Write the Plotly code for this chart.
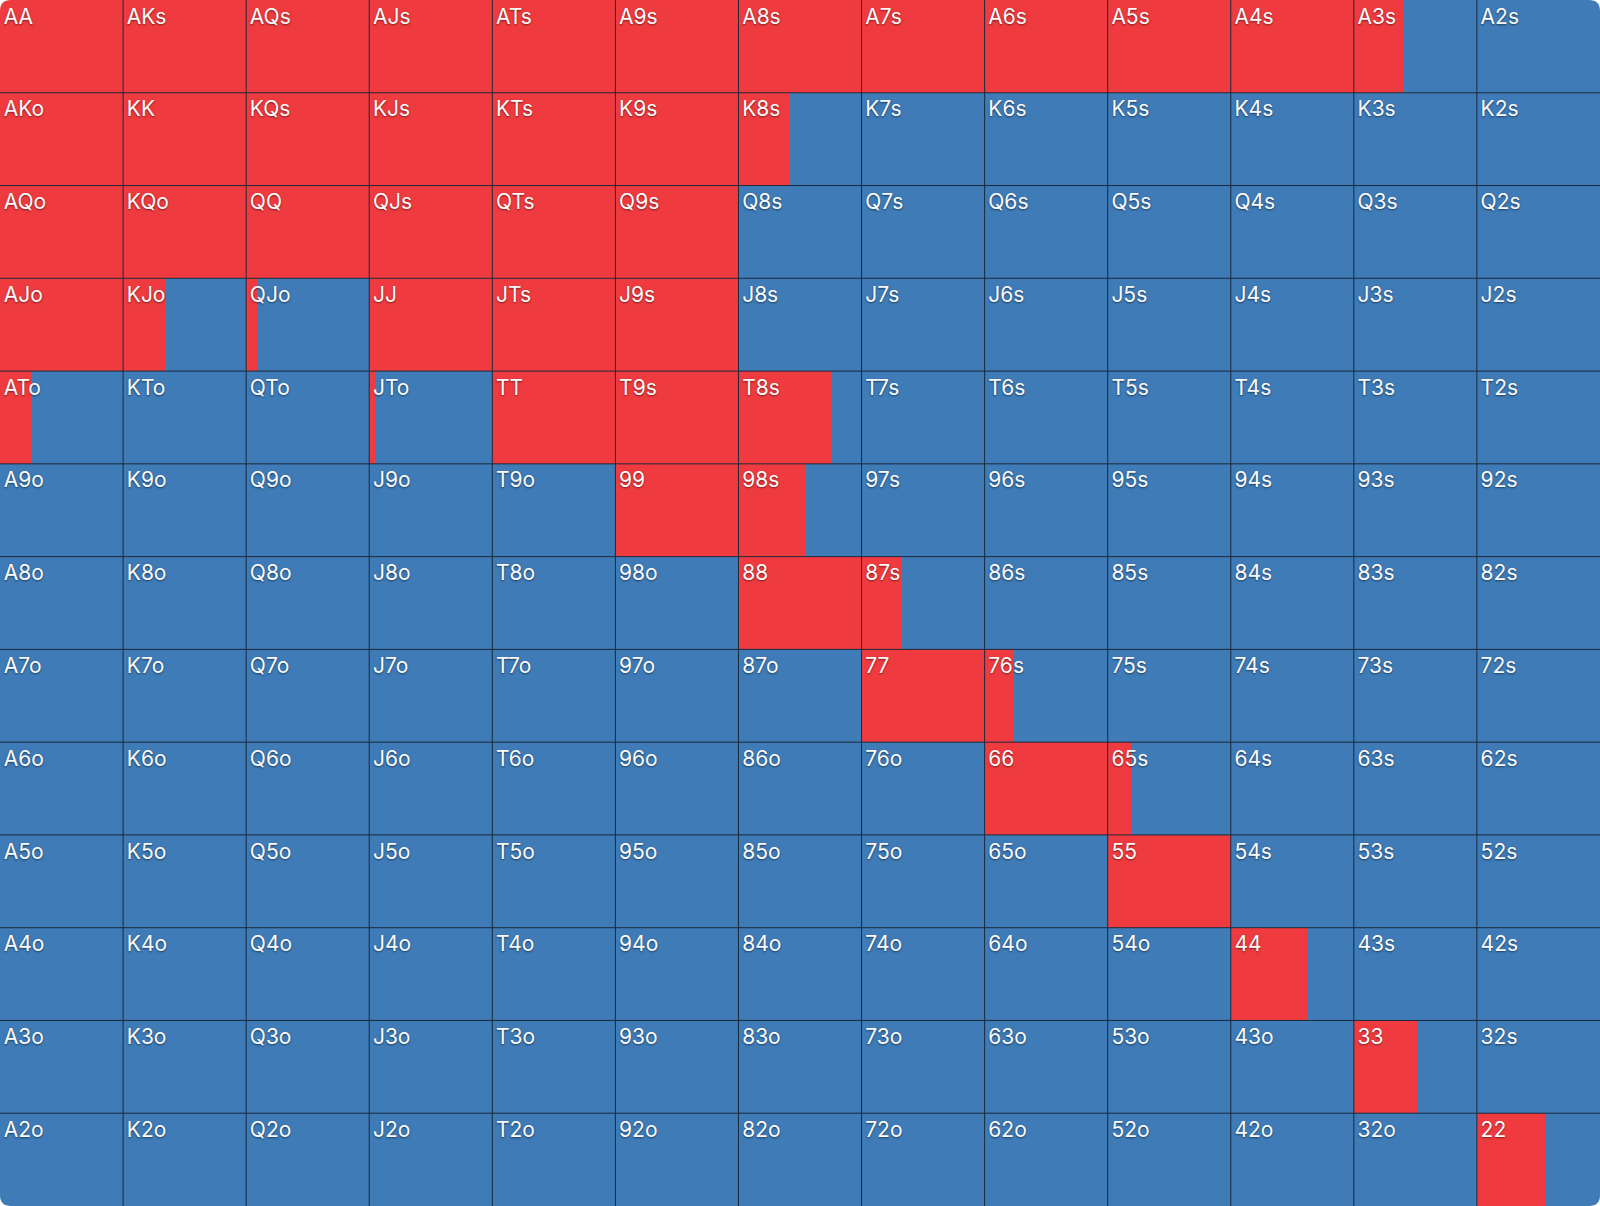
import plotly.graph_objects as go

ranks = ["A", "K", "Q", "J", "T", "9", "8", "7", "6", "5", "4", "3", "2"]

# fraction of each cell shown in red (row = first rank, col = second rank)
red_frac = [
    [1, 1, 1, 1, 1, 1, 1, 1, 1, 1, 1, 0.40, 0],
    [1, 1, 1, 1, 1, 1, 0.41, 0, 0, 0, 0, 0, 0],
    [1, 1, 1, 1, 1, 1, 0, 0, 0, 0, 0, 0, 0],
    [1, 0.34, 0.09, 1, 1, 1, 0, 0, 0, 0, 0, 0, 0],
    [0.25, 0, 0, 0.05, 1, 1, 0.76, 0, 0, 0, 0, 0, 0],
    [0, 0, 0, 0, 0, 1, 0.54, 0, 0, 0, 0, 0, 0],
    [0, 0, 0, 0, 0, 0, 1, 0.32, 0, 0, 0, 0, 0],
    [0, 0, 0, 0, 0, 0, 0, 1, 0.24, 0, 0, 0, 0],
    [0, 0, 0, 0, 0, 0, 0, 0, 1, 0.20, 0, 0, 0],
    [0, 0, 0, 0, 0, 0, 0, 0, 0, 1, 0, 0, 0],
    [0, 0, 0, 0, 0, 0, 0, 0, 0, 0, 0.63, 0, 0],
    [0, 0, 0, 0, 0, 0, 0, 0, 0, 0, 0, 0.51, 0],
    [0, 0, 0, 0, 0, 0, 0, 0, 0, 0, 0, 0, 0.55],
]

RED = "#EF3B3F"
BLUE = "#3E7BB7"
GRID = "#1B2A3A"

n = len(ranks)

def label(r, c):
    if r == c:
        return ranks[r] + ranks[c]
    if c > r:
        return ranks[r] + ranks[c] + "s"
    return ranks[c] + ranks[r] + "o"

red_y, red_x, red_base = [], [], []
blue_y, blue_x, blue_base = [], [], []
tx, ty, tt = [], [], []
for r in range(n):
    for c in range(n):
        f = red_frac[r][c]
        if f > 0:
            red_y.append(r + 0.5); red_x.append(f); red_base.append(c)
        if f < 1:
            blue_y.append(r + 0.5); blue_x.append(1 - f); blue_base.append(c + f)
        tx.append(c + 0.03); ty.append(r + 0.085); tt.append(label(r, c))

fig = go.Figure()
fig.add_trace(go.Bar(orientation="h", y=red_y, x=red_x, base=red_base, width=1,
                     marker=dict(color=RED, line=dict(width=0)), hoverinfo="skip"))
fig.add_trace(go.Bar(orientation="h", y=blue_y, x=blue_x, base=blue_base, width=1,
                     marker=dict(color=BLUE, line=dict(width=0)), hoverinfo="skip"))

# interior grid lines
gx, gy = [], []
for k in range(1, n):
    gx += [k, k, None]; gy += [0, n, None]
    gx += [0, n, None]; gy += [k, k, None]
fig.add_trace(go.Scatter(x=gx, y=gy, mode="lines", line=dict(color=GRID, width=1),
                         hoverinfo="skip"))

fig.add_trace(go.Scatter(x=tx, y=ty, text=tt, mode="text", textposition="bottom right",
                         textfont=dict(family="Inter", size=21, color="#FAFAFA",
                                       shadow="0px 1px 2px rgba(0,0,0,0.5)"),
                         hoverinfo="skip"))

# rounded outer corners
rx, ry = 11 / 1600, 11 / 1206
corners = [
    f"M 0,1 L {rx},1 Q 0,1 0,{1-ry} Z",
    f"M 1,1 L {1-rx},1 Q 1,1 1,{1-ry} Z",
    f"M 0,0 L {rx},0 Q 0,0 0,{ry} Z",
    f"M 1,0 L {1-rx},0 Q 1,0 1,{ry} Z",
]
shapes = [dict(type="path", xref="paper", yref="paper", path=p, fillcolor="white",
               line=dict(width=0), layer="above") for p in corners]

fig.update_layout(
    width=1600, height=1206,
    margin=dict(l=0, r=0, t=0, b=0),
    paper_bgcolor="white", plot_bgcolor="white",
    barmode="overlay", bargap=0, showlegend=False,
    xaxis=dict(range=[0, n], visible=False, fixedrange=True),
    yaxis=dict(range=[n, 0], visible=False, fixedrange=True),
    shapes=shapes,
)

fig.write_html("out.html", config={"displayModeBar": False},
               post_script="document.body.style.margin='0';document.body.style.overflow='hidden';")
